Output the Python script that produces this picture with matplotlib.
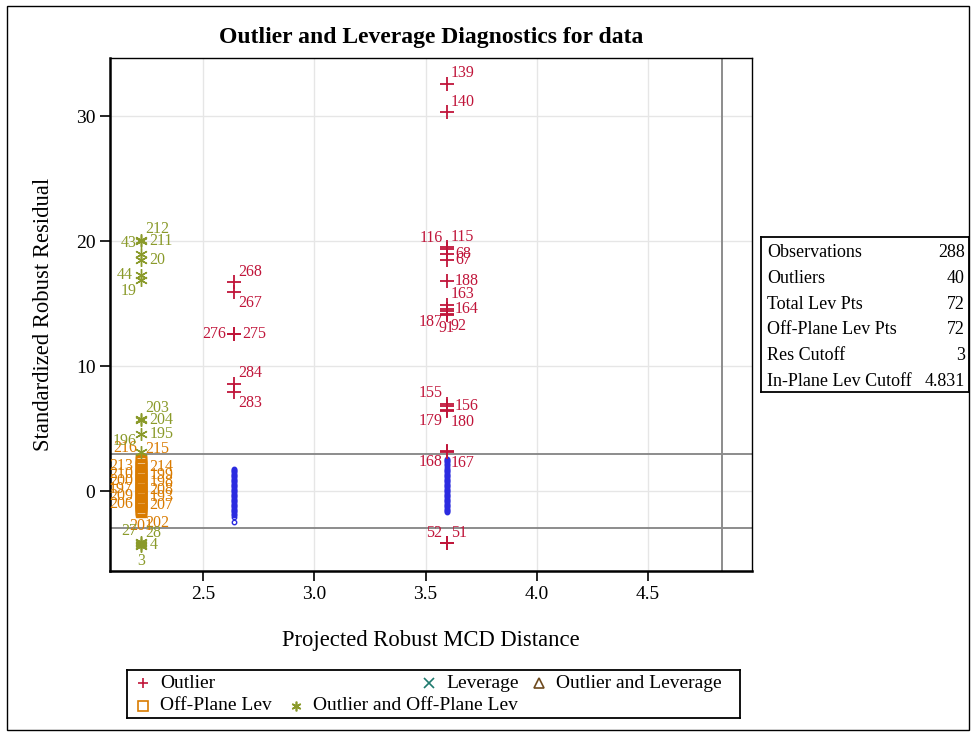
import matplotlib
matplotlib.use("Agg")
import matplotlib.pyplot as plt
from matplotlib.patches import Rectangle

plt.rcParams['font.family'] = ['Liberation Serif', 'DejaVu Serif']

# distances of the three clusters
X_LEFT = 2.222
X_MID = 2.64
X_RIGHT = 3.595
CUTOFF_RES = 3.0
CUTOFF_LEV = 4.831

# outliers (red +)
out_x = [X_RIGHT] * 20 + [X_MID] * 6
out_y = [32.6, 30.3, 19.5, 19.4, 19.0, 18.5, 16.8, 14.9, 14.6, 14.4, 14.2, 14.1,
         7.0, 6.8, 6.5, 6.4, 3.2, 3.1, -4.2, -4.2,
         16.7, 15.9, 12.6, 12.6, 8.6, 7.9]
out_lab = ['139', '140', '115', '116', '68', '67', '188', '163', '164', '187', '91', '92',
           '155', '156', '179', '180', '168', '167', '52', '51',
           '268', '267', '276', '275', '284', '283']
out_pos = ['ur', 'ur', 'ur', 'ul', 'r', 'r', 'r', 'ur', 'r', 'dl', 'd', 'dr',
           'ul', 'r', 'dl', 'dr', 'dl', 'dr', 'ul', 'ur',
           'ur', 'dr', 'l', 'r', 'ur', 'dr']

# outlier and off-plane leverage (olive asterisk)
opl_y = [20.1, 20.0, 19.0, 18.5, 17.3, 16.9, 5.8, 5.7, 4.6, 3.1, -4.1, -4.2, -4.3, -4.4]
opl_lab = ['212', '211', '43', '20', '44', '19', '203', '204', '195', '196', '27', '28', '4', '3']
opl_pos = ['ur', 'r', 'ul', 'r', 'l', 'dl', 'ur', 'r', 'r', 'ul', 'ul', 'ur', 'r', 'd']

# off-plane leverage (orange square)
opv_y = [2.6, 2.5, 2.0, 1.9, 1.4, 1.3, 0.8, 0.7, 0.2, 0.1, -0.4, -0.5, -1.0, -1.1,
         -1.6, -1.7, 2.4, 2.2, 2.1, 1.8, 1.7, 1.6, 1.5, 1.2, 1.1, 1.0, 0.9, 0.6, 0.5,
         0.4, 0.3, 0.0, -0.1, -0.2, -0.3, -0.6, -0.7, -0.8, -0.9, -1.2, -1.3, -1.4,
         -1.5, 2.3, 1.25, 0.35, -0.45, -1.05, -1.55, 0.65, -0.25, 1.45, -0.95, 0.15,
         0.95, -0.05, -0.85, -1.25]
opv_lab = ['216', '215', '213', '214', '210', '199', '200', '198', '197', '208',
           '209', '193', '206', '207', '201', '202'] + [''] * 42
opv_pos = ['ul', 'ur', 'l', 'r', 'l', 'r', 'l', 'r', 'l', 'r', 'l', 'r', 'l', 'r',
           'd', 'dr'] + [''] * 42

# regular observations (blue circles)
reg_mid_y = [1.8, 1.7, 1.6, 1.5, 1.4, 1.3, 1.2, 1.1, 1.0, 0.9, 0.8, 0.7, 0.6, 0.5,
             0.4, 0.3, 0.2, 0.1, 0.0, -0.1, -0.2, -0.3, -0.4, -0.5, -0.6, -0.7, -0.8,
             -0.9, -1.0, -1.1, -1.2, -1.3, -1.4, -1.5, -1.6, -1.7, -1.8, -1.9, -2.1, -2.5]
reg_right_y = [2.6, 2.5, 2.4, 2.3, 2.2, 2.1, 1.9, 1.8, 1.7, 1.6, 1.5, 1.4, 1.3, 1.2,
               1.1, 1.0, 0.9, 0.8, 0.7, 0.6, 0.5, 0.4, 0.3, 0.2, 0.1, 0.0, -0.1, -0.2,
               -0.3, -0.4, -0.5, -0.6, -0.7, -0.8, -0.9, -1.0, -1.1, -1.2, -1.3, -1.4,
               -1.5, -1.6, -1.7]

stats_names = ['Observations', 'Outliers', 'Total Lev Pts', 'Off-Plane Lev Pts',
               'Res Cutoff', 'In-Plane Lev Cutoff']
stats_vals = ['288', '40', '72', '72', '3', '4.831']

RED = '#c0153a'
OLIVE = '#8a9a2a'
ORANGE = '#d97b00'
BLUE = '#2b2be0'
TEAL = '#1f7a6e'
BROWN = '#6e4a1e'

OFFSETS = {
    'ur': ((3, 2), 'left', 'bottom'),
    'r': ((6, 0), 'left', 'center'),
    'dr': ((3, -2), 'left', 'top'),
    'l': ((-6, 0), 'right', 'center'),
    'ul': ((-3, 2), 'right', 'bottom'),
    'dl': ((-3, -2), 'right', 'top'),
    'd': ((0, -5), 'center', 'top'),
}


def put_labels(ax, xs, ys, labels, places, color):
    for x, y, t, p in zip(xs, ys, labels, places):
        if not t:
            continue
        off, ha, va = OFFSETS[p]
        ax.annotate(t, (x, y), xytext=off, textcoords='offset points',
                    ha=ha, va=va, fontsize=11.5, color=color)


fig = plt.figure(figsize=(9.76, 7.36), dpi=100)
fig.patches.append(Rectangle((0.007, 0.008), 0.986, 0.984, transform=fig.transFigure,
                             fill=False, edgecolor='black', linewidth=1.0))

ax = fig.add_axes([0.1127, 0.2242, 0.6578, 0.697])
ax.set_xlim(2.082, 4.967)
ax.set_ylim(-6.4, 34.65)
ax.set_xticks([2.5, 3.0, 3.5, 4.0, 4.5])
ax.set_yticks([0, 10, 20, 30])
ax.set_xticklabels(['2.5', '3.0', '3.5', '4.0', '4.5'])
ax.grid(True, color='#e6e6e6', linewidth=1.0)
ax.set_axisbelow(True)
for s in ax.spines.values():
    s.set_linewidth(1.0)
ax.spines['left'].set_linewidth(1.8)
ax.spines['bottom'].set_linewidth(1.8)
ax.tick_params(labelsize=14, length=7, width=1.2)

ax.axhline(CUTOFF_RES, color='#8c8c8c', linewidth=1.4, zorder=1)
ax.axhline(-CUTOFF_RES, color='#8c8c8c', linewidth=1.4, zorder=1)
ax.axvline(CUTOFF_LEV, color='#8c8c8c', linewidth=1.4, zorder=1)

ax.plot([X_MID] * len(reg_mid_y), reg_mid_y, 'o', ms=3.2, mfc='none', mec=BLUE, mew=1.0)
ax.plot([X_RIGHT] * len(reg_right_y), reg_right_y, 'o', ms=3.2, mfc='none', mec=BLUE, mew=1.0)

ax.plot([X_LEFT] * len(opv_y), opv_y, 's', ms=7, mfc='none', mec=ORANGE, mew=1.0)
put_labels(ax, [X_LEFT] * len(opv_y), opv_y, opv_lab, opv_pos, ORANGE)

ax.plot([X_LEFT] * len(opl_y), opl_y, marker=(6, 2, 0), ls='none', ms=9, mec=OLIVE, mew=1.0)
put_labels(ax, [X_LEFT] * len(opl_y), opl_y, opl_lab, opl_pos, OLIVE)

ax.plot(out_x, out_y, '+', ms=10, mec=RED, mew=1.3)
put_labels(ax, out_x, out_y, out_lab, out_pos, RED)

ax.set_title('Outlier and Leverage Diagnostics for data', fontsize=17,
             fontweight='bold', pad=11)
ax.set_xlabel('Projected Robust MCD Distance', fontsize=16.3, labelpad=20)
ax.set_ylabel('Standardized Robust Residual', fontsize=16.3, labelpad=16)

# statistics box on the right
tx = fig.add_axes([761 / 976, 1 - 392 / 736, 208 / 976, 155 / 736])
tx.set_xlim(0, 1)
tx.set_ylim(0, 1)
tx.set_xticks([])
tx.set_yticks([])
for s in tx.spines.values():
    s.set_linewidth(1.3)
n = len(stats_names)
for i, (name, val) in enumerate(zip(stats_names, stats_vals)):
    yy = 1 - (i + 0.6) / n
    tx.text(0.03, yy, name, ha='left', va='center', fontsize=13)
    tx.text(0.98, yy, val, ha='right', va='center', fontsize=13)

# legend panel
lg = fig.add_axes([127 / 976, 1 - 718 / 736, 613 / 976, 48 / 736])
lg.set_xlim(0, 613)
lg.set_ylim(48, 0)
lg.set_xticks([])
lg.set_yticks([])
for s in lg.spines.values():
    s.set_linewidth(1.3)
legend_items = [
    ('Outlier', '+', RED, 16, 13),
    ('Leverage', 'x', TEAL, 302, 13),
    ('Outlier and Leverage', '^', BROWN, 412, 13),
    ('Off-Plane Lev', 's', ORANGE, 16, 36),
    ('Outlier and Off-Plane Lev', (6, 2, 0), OLIVE, 169, 36),
]
for name, m, c, lx, ly in legend_items:
    lg.plot([lx], [ly], marker=m, ls='none', ms=7, mfc='none', mec=c, mew=1.2)
    lg.text(lx + 17, ly, name, ha='left', va='center', fontsize=14)

fig.savefig('out.png', dpi=100)
